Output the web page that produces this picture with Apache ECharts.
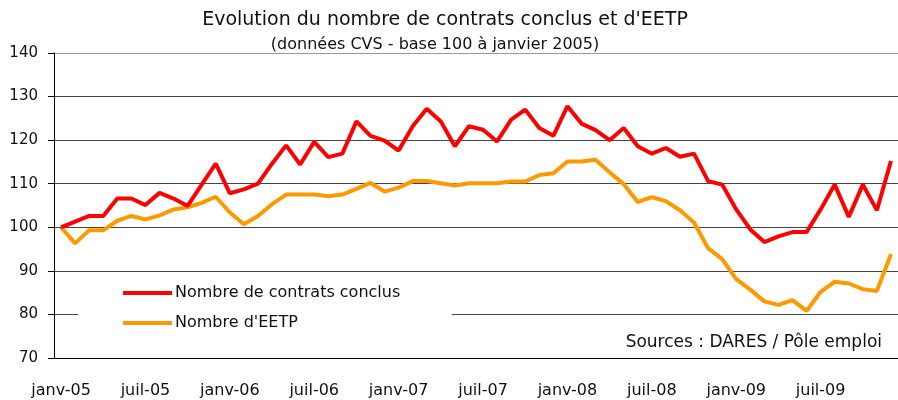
<!DOCTYPE html>
<html>
<head>
<meta charset="utf-8">
<script src="https://cdn.jsdelivr.net/npm/echarts@6/dist/echarts.min.js"></script>
<style>
  html, body { margin: 0; padding: 0; background: #fff; }
  #chart { width: 898px; height: 400px; }
</style>
</head>
<body>
<div id="chart"></div>
<script>
// mois / années pour l'axe des abscisses
var monthNames = ['janv', 'févr', 'mars', 'avr', 'mai', 'juin', 'juil', 'août', 'sept', 'oct', 'nov', 'déc'];
var years = ['05', '06', '07', '08', '09'];

// séries (base 100 janvier 2005)
var contratsConclus = [
  100, 101.3, 102.6, 102.6, 106.6, 106.6, 105.1, 107.9, 106.6, 104.9, 109.8, 114.6,
  107.8, 108.7, 110, 114.6, 118.8, 114.4, 119.6, 116.1, 116.9, 124.3, 121, 119.9,
  117.6, 123.2, 127.2, 124.3, 118.6, 123.2, 122.4, 119.7, 124.7, 127, 122.8, 121,
  127.8, 123.8, 122.3, 120, 122.8, 118.6, 116.9, 118.2, 116.2, 116.9, 110.6, 109.8,
  104.1, 99.5, 96.6, 97.9, 98.9, 98.9, 104.1, 109.8, 102.4, 109.8, 103.9, 115.2
];
var eetp = [
  100, 96.3, 99.3, 99.3, 101.5, 102.6, 101.8, 102.7, 104.1, 104.6, 105.6, 107,
  103.4, 100.7, 102.6, 105.3, 107.5, 107.5, 107.5, 107.1, 107.5, 108.8, 110.2, 108.2,
  109.1, 110.6, 110.6, 110.1, 109.6, 110.1, 110.1, 110.1, 110.5, 110.5, 112, 112.4,
  115.1, 115.1, 115.5, 112.6, 109.9, 105.8, 106.9, 106, 103.9, 101.1, 95.2, 92.7,
  88.1, 85.7, 83, 82.2, 83.3, 80.8, 85.2, 87.5, 87.1, 85.8, 85.4, 93.8
];
var seriesNames = ['Nombre de contrats conclus', "Nombre d'EETP"];

var categories = [];
for (var y = 0; y < years.length; y++) {
  for (var m = 0; m < monthNames.length; m++) {
    categories.push(monthNames[m] + '-' + years[y]);
  }
}

var FONT = 'DejaVu Sans';
var myChart = echarts.init(document.getElementById('chart'));

myChart.setOption({
  animation: false,
  textStyle: { fontFamily: FONT },
  title: [{
    text: 'Evolution du nombre de contrats conclus et d\'EETP',
    left: 445,
    textAlign: 'center',
    top: 11,
    padding: 0,
    textStyle: { fontFamily: FONT, fontSize: 19, fontWeight: 'normal', color: '#111' }
  }, {
    text: '(données CVS - base 100 à janvier 2005)',
    left: 435,
    textAlign: 'center',
    top: 37,
    padding: 0,
    textStyle: { fontFamily: FONT, fontSize: 16, fontWeight: 'normal', color: '#111' }
  }, {
    text: 'Sources : DARES / Pôle emploi',
    right: 16,
    top: 334,
    padding: 0,
    textStyle: { fontFamily: FONT, fontSize: 17, fontWeight: 'normal', color: '#111' }
  }],
  // fond blanc du cartouche de légende
  graphic: [{
    type: 'rect',
    z: 1,
    shape: { x: 78, y: 277, width: 374, height: 58 },
    style: { fill: '#fff' }
  }],
  legend: {
    orient: 'vertical',
    left: 123,
    top: 285,
    padding: 0,
    itemGap: 14,
    itemWidth: 49,
    itemHeight: 4,
    icon: 'rect',
    textStyle: { fontFamily: FONT, fontSize: 16, color: '#111', padding: [0, 0, 0, -2] },
    data: seriesNames
  },
  grid: { left: 54, top: 53, width: 851, height: 305 },
  xAxis: {
    type: 'category',
    boundaryGap: true,
    data: categories,
    axisLine: { lineStyle: { color: '#000', width: 1 } },
    axisTick: { interval: 5, length: 6, lineStyle: { color: '#000' } },
    axisLabel: { interval: 5, margin: 25, fontSize: 16, color: '#111', fontFamily: FONT },
    splitLine: { show: false }
  },
  yAxis: {
    type: 'value',
    min: 70,
    max: 140,
    interval: 10,
    axisLine: { show: true, lineStyle: { color: '#000', width: 1 } },
    axisTick: { show: true, length: 6, lineStyle: { color: '#000' } },
    axisLabel: { margin: 16, fontSize: 15, color: '#111', fontFamily: FONT },
    splitLine: { lineStyle: { color: ['#000', '#444', '#444', '#444', '#444', '#444', '#444', '#999'], width: 1 } }
  },
  series: [{
    name: seriesNames[0],
    type: 'line',
    data: contratsConclus,
    symbol: 'none',
    z: 3,
    lineStyle: { color: '#ff0000', width: 4 },
    itemStyle: { color: '#ff0000' }
  }, {
    name: seriesNames[1],
    type: 'line',
    data: eetp,
    symbol: 'none',
    z: 2,
    lineStyle: { color: '#ff9900', width: 4 },
    itemStyle: { color: '#ff9900' }
  }]
});
</script>
</body>
</html>
